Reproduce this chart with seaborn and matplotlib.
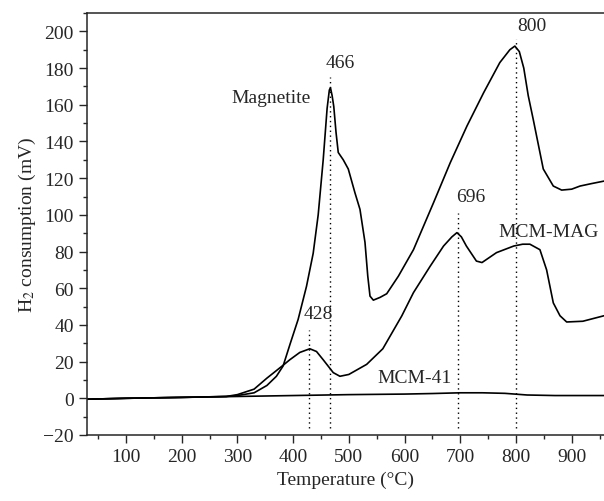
import matplotlib
matplotlib.use("Agg")
import matplotlib.pyplot as plt
from matplotlib.ticker import MultipleLocator
import seaborn as sns
import pandas as pd

# values
mag_temp = [30, 100, 200, 250, 280, 300, 330, 353, 370, 382, 395, 409, 424, 436, 445,
            454, 461, 465, 467, 470, 473, 477, 481, 490, 499, 511, 520, 529, 534,
            538, 544, 556, 568, 589, 616, 652, 682, 712, 742, 771, 789, 798, 806,
            814, 822, 831, 849, 867, 882, 900, 915, 935, 958]
mag_h2 = [-0.5, 0, 0.5, 0.8, 1, 1.5, 3, 7, 12, 17.6, 30, 43, 61, 79, 100,
          130, 158, 168, 169.3, 165, 159, 145, 134, 130, 125, 112, 103, 85, 66.6,
          55.7, 53.5, 55, 57, 66.6, 81, 106.6, 128.4, 148.4, 166.6, 183, 190, 192, 189,
          180, 165, 152, 125, 115.7, 113.5, 114, 115.7, 117, 118.4]

mcmmag_temp = [30, 100, 200, 250, 280, 300, 330, 353, 382, 394, 412, 430, 442, 454, 472,
               484, 500, 532, 561, 595, 616, 646, 670, 685, 694, 702, 711, 729, 739, 765,
               796, 812, 825, 843, 855, 867, 879, 891, 920, 958]
mcmmag_h2 = [-0.5, 0, 0.5, 0.8, 1, 2, 5, 11, 18, 21, 25, 27, 25.5, 21, 14,
             12, 13, 18.5, 27, 44.9, 57.6, 72, 83, 88, 90.3, 88, 83, 74.8, 74, 79.4,
             83, 84, 84, 81, 70, 52, 45, 41.6, 42, 45]

mcm41_temp = [30, 100, 200, 300, 400, 500, 600, 650, 700, 740, 780, 820, 870, 958]
mcm41_h2 = [-0.5, 0, 0.5, 1, 1.5, 2, 2.3, 2.6, 3, 3, 2.7, 1.8, 1.5, 1.5]

peak_temps = [428, 466, 696, 800]
peak_tops = [37, 175, 101, 196]
peak_label_x = [446, 485, 718, 829]
peak_label_y = [46, 183, 110, 203]
peak_bottom = -16

curve_names = ["Magnetite", "MCM-MAG", "MCM-41"]
name_pos = [(432, 164, "right"), (858, 91, "center"), (618, 11.5, "center")]

df = pd.concat([
    pd.DataFrame({"T": mag_temp, "H2": mag_h2, "sample": "Magnetite"}),
    pd.DataFrame({"T": mcmmag_temp, "H2": mcmmag_h2, "sample": "MCM-MAG"}),
    pd.DataFrame({"T": mcm41_temp, "H2": mcm41_h2, "sample": "MCM-41"}),
])

sns.set_style("ticks")
plt.rcParams["font.family"] = ["Liberation Serif", "DejaVu Serif"]
plt.rcParams["mathtext.fontset"] = "stix"

fig = plt.figure(figsize=(6.04, 5.02), dpi=100)
ax = fig.add_axes([0.144, 0.1315, 0.856, 0.8405])

sns.lineplot(data=df, x="T", y="H2", hue="sample", palette=["black"] * 3,
             linewidth=1.2, legend=False, ax=ax, estimator=None, sort=False)

for t, top in zip(peak_temps, peak_tops):
    ax.plot([t, t], [peak_bottom, top], ls=(0, (1, 2.5)), color="black", lw=1)
for t, lx, ly in zip(peak_temps, peak_label_x, peak_label_y):
    ax.text(lx, ly, str(t), ha="center", va="center", fontsize=14)
for name, (x, y, ha) in zip(curve_names, name_pos):
    ax.text(x, y, name, ha=ha, va="center", fontsize=14)

ax.set_xlim(30, 958)
ax.set_ylim(-20, 210)
ax.xaxis.set_major_locator(MultipleLocator(100))
ax.xaxis.set_minor_locator(MultipleLocator(50))
ax.yaxis.set_major_locator(MultipleLocator(20))
ax.yaxis.set_minor_locator(MultipleLocator(10))
ax.set_xticks(range(100, 1000, 100))
ax.tick_params(which="major", direction="out", length=6, width=1, labelsize=14)
ax.tick_params(which="minor", direction="out", length=3, width=1)
ax.spines["right"].set_visible(False)
for s in ["left", "bottom", "top"]:
    ax.spines[s].set_linewidth(1.1)

ax.set_xlabel("Temperature (°C)", fontsize=14)
ax.set_ylabel("H$_2$ consumption (mV)", fontsize=14)

fig.savefig("out.png", dpi=100)
